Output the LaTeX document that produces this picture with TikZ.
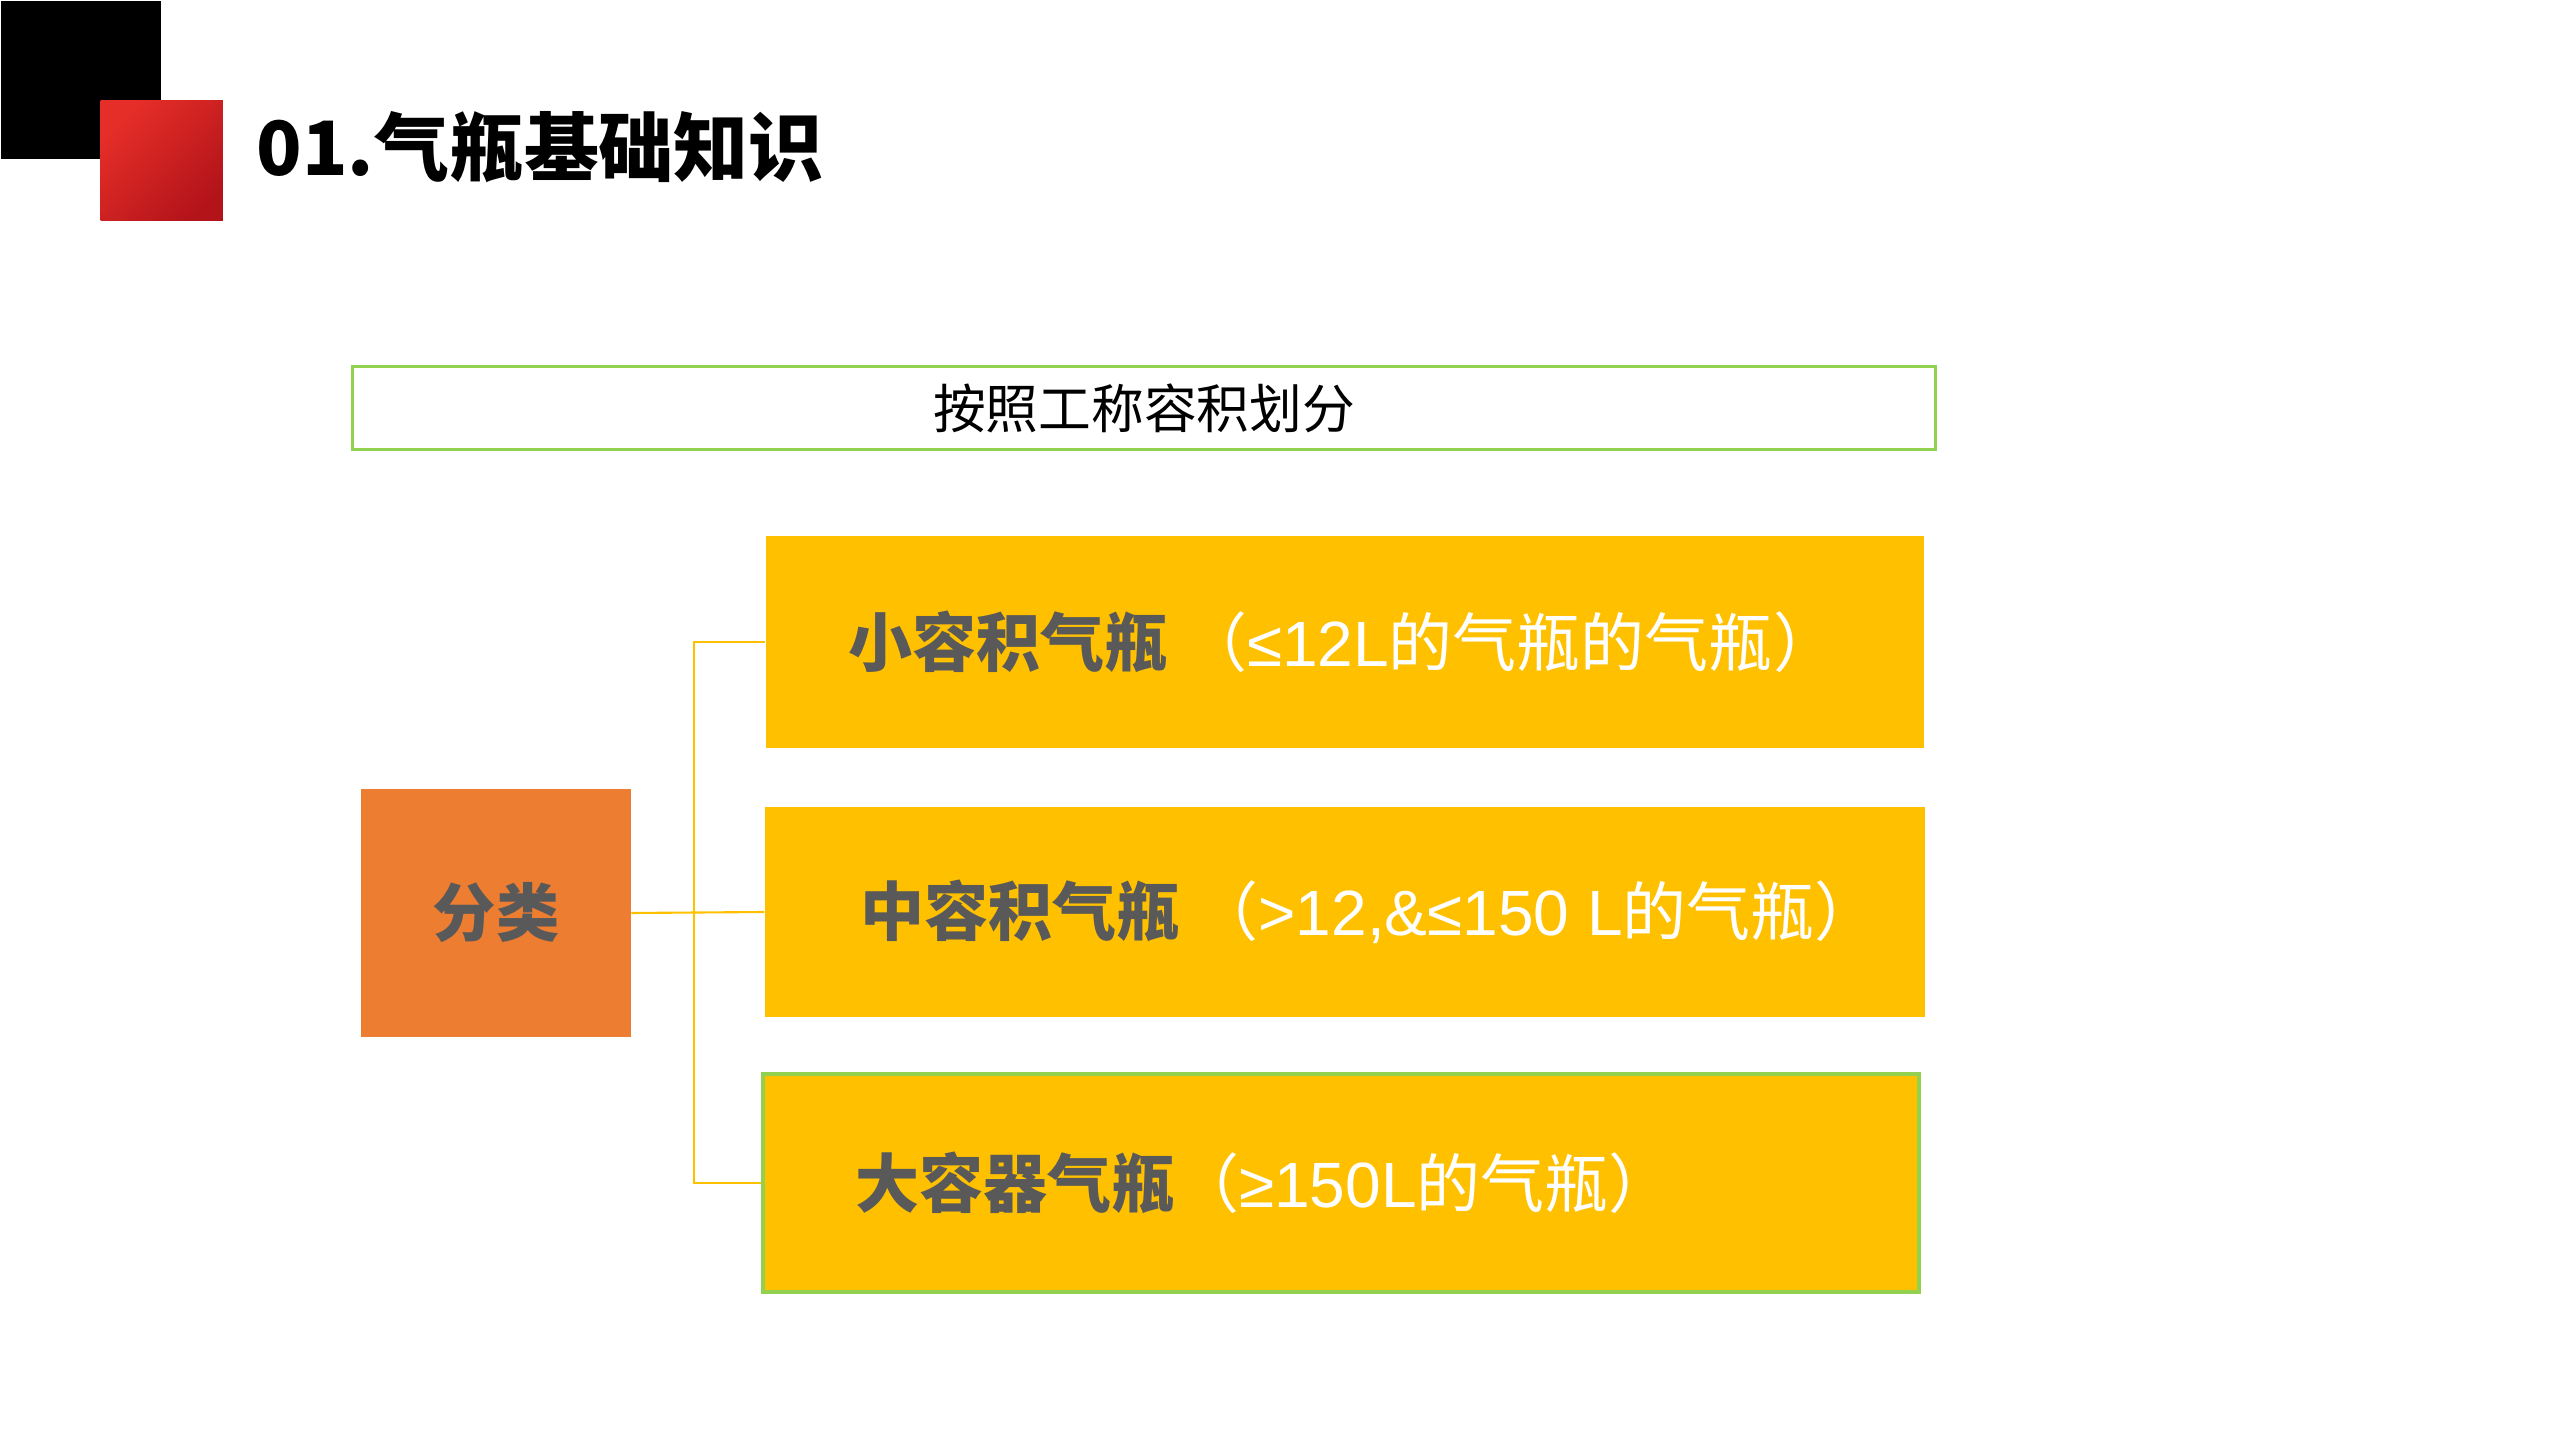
\documentclass[tikz,border=0pt]{standalone}
\usepackage{fontspec}
\setmainfont{Noto Sans CJK SC}
\newfontfamily\latin{Liberation Sans}
\usetikzlibrary{positioning}
\definecolor{gold}{HTML}{FFC000}
\definecolor{carrot}{HTML}{ED7D31}
\definecolor{leaf}{HTML}{92D050}
\definecolor{slate}{HTML}{595959}
\definecolor{redhi}{HTML}{E62E28}
\definecolor{redlo}{HTML}{B3141A}
\tikzset{
  capbox/.style={fill=gold, draw=none, inner sep=0pt},
  captext/.style={inner sep=0pt, font=\fontsize{18.2}{20}\selectfont},
  link/.style={draw=gold, line width=0.6pt}
}

\begin{document}
\begin{tikzpicture}[x=0.01cm, y=-0.01cm]
  \useasboundingbox (0,0) rectangle (2560,1440);
  % corner squares and title
  \node[fill=black, inner sep=0pt, minimum width=1.6cm, minimum height=1.58cm, anchor=north west] (blk) at (0,0) {};
  \node[inner sep=0pt, minimum width=1.22cm, minimum height=1.2cm, anchor=north west,
        top color=redhi, bottom color=redlo, shading angle=45] (redsq) at (100,100) {};
  \node[anchor=west, inner sep=0pt, font=\fontsize{21.3}{24}\selectfont\bfseries] (title) at (256,147) {01.气瓶基础知识};

  % heading bar
  \node[draw=leaf, line width=0.8pt, minimum width=15.82cm, minimum height=0.83cm, inner sep=0pt,
        font=\fontsize{15}{18}\selectfont] (head) at (1144,408) {按照工称容积划分};

  % category box
  \node[fill=carrot, minimum width=2.69cm, minimum height=2.48cm, inner sep=0pt, text=slate,
        font=\fontsize{18}{20}\selectfont\bfseries] (cat) at (496,913) {分类};

  % the three classes
  \node[capbox, minimum width=11.58cm, minimum height=2.12cm] (small) at (1345,642) {};
  \node[capbox, minimum width=11.59cm, minimum height=2.10cm] (mid) at (1345,912) {};
  \node[capbox, draw=leaf, line width=1pt, minimum width=11.55cm, minimum height=2.18cm] (large) at (1341,1183) {};

  \node[captext, right=0.83cm of small.west] (smalltxt) {{\bfseries\color{slate}小容积气瓶} {\color{white}（{\latin ≤12L}的气瓶的气瓶）}};
  \node[captext, right=0.95cm of mid.west] (midtxt) {{\bfseries\color{slate}中容积气瓶} {\color{white}（{\latin >12,\&≤150 L}的气瓶）}};
  \node[captext, right=0.93cm of large.west] (largetxt) {{\bfseries\color{slate}大容器气瓶}{\color{white}（{\latin ≥150L}的气瓶）}};

  % connectors
  \coordinate (spine) at (694,912);
  \draw[link] (cat.east) -- (mid.west);
  \draw[link] (small.west) -| (spine) |- (large.west);
\end{tikzpicture}
\end{document}
